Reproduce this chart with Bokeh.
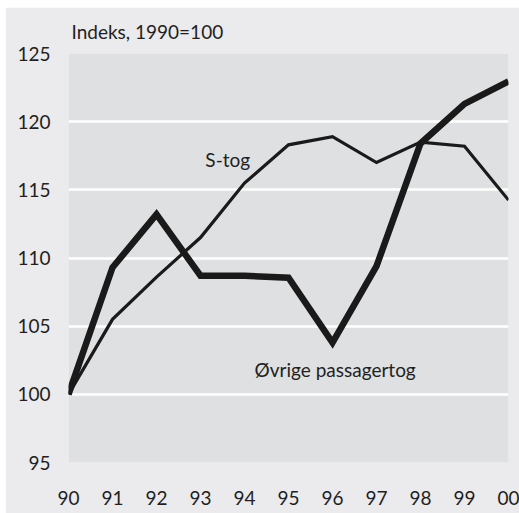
from bokeh.plotting import figure
from bokeh.models import Range1d, Label, FixedTicker
from bokeh.embed import file_html
from bokeh.resources import INLINE

years = [1990, 1991, 1992, 1993, 1994, 1995, 1996, 1997, 1998, 1999, 2000]
year_labels = ["90", "91", "92", "93", "94", "95", "96", "97", "98", "99", "00"]
s_tog = [100.0, 105.5, 108.6, 111.5, 115.5, 118.3, 118.9, 117.0, 118.5, 118.2, 114.25]
ovrige = [100.0, 109.3, 113.2, 108.7, 108.7, 108.55, 103.8, 109.4, 118.4, 121.3, 122.95]
y_ticks = [95, 100, 105, 110, 115, 120, 125]
y_title = "Indeks, 1990=100"
s_label = "S-tog"
o_label = "Øvrige passagertog"

FONT = "Lato"
FS = "19px"
TXT = "#231f20"

p = figure(width=514, height=506, output_backend="svg", toolbar_location=None,
           x_range=Range1d(1990, 2000), y_range=Range1d(95, 125),
           min_border_left=63, min_border_right=11, min_border_top=45, min_border_bottom=51)
p.margin = (7, 0, 0, 5)
p.background_fill_color = "#dfe0e2"
p.border_fill_color = "#ebebed"
p.outline_line_color = None

p.title.text = y_title
p.title.align = "left"
p.title.offset = 3
p.title.standoff = 21
p.title.text_font = FONT
p.title.text_font_size = FS
p.title.text_font_style = "normal"
p.title.text_color = TXT

p.xgrid.grid_line_color = None
p.ygrid.grid_line_color = "white"
p.ygrid.grid_line_width = 2.5

for ax in (p.xaxis, p.yaxis):
    ax.axis_line_color = None
    ax.major_tick_line_color = None
    ax.minor_tick_line_color = None
    ax.major_label_text_font = FONT
    ax.major_label_text_font_size = FS
    ax.major_label_text_color = TXT

p.xaxis.ticker = FixedTicker(ticks=years)
p.xaxis.major_label_overrides = {y: l for y, l in zip(years, year_labels)}
p.xaxis.major_label_standoff = 22
p.yaxis.ticker = FixedTicker(ticks=y_ticks)
p.yaxis.major_label_standoff = 12

p.line(years, ovrige, line_color="#1a1a1a", line_width=6.5, line_join="miter")
p.line(years, s_tog, line_color="#1a1a1a", line_width=3.2, line_join="miter")

p.add_layout(Label(x=1993.11, y=117.24, text=s_label, text_font=FONT,
                   text_font_size=FS, text_color=TXT, text_baseline="alphabetic"))
p.add_layout(Label(x=1994.23, y=101.8, text=o_label, text_font=FONT,
                   text_font_size=FS, text_color=TXT, text_baseline="alphabetic"))

open("out.html", "w").write(file_html(p, INLINE))
